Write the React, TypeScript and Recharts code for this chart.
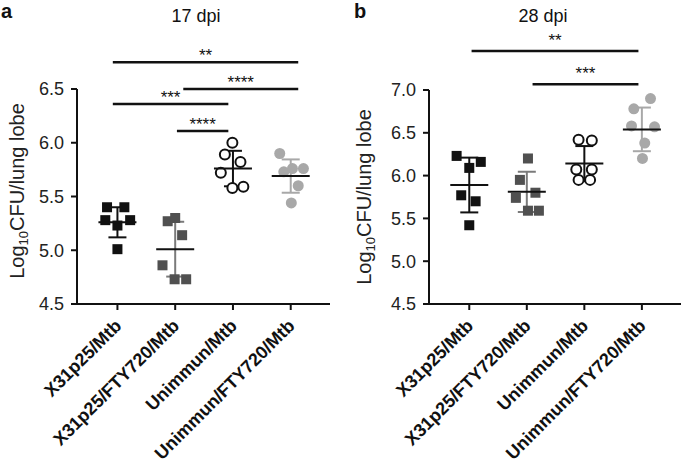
import React from "react";
import {
  ScatterChart,
  Scatter,
  XAxis,
  YAxis,
  ErrorBar,
  ReferenceLine,
} from "recharts";

const FONT = '"Liberation Sans", Arial, sans-serif';

const categories = [
  "X31p25/Mtb",
  "X31p25/FTY720/Mtb",
  "Unimmun/Mtb",
  "Unimmun/FTY720/Mtb",
];

// 17 dpi
const a17X31 = [5.4, 5.4, 5.28, 5.28, 5.23, 5.01];
const a17X31Fty = [5.27, 5.3, 5.14, 4.86, 4.73, 4.73];
const a17Unimm = [6.0, 5.89, 5.82, 5.72, 5.58, 5.59];
const a17UnimmFty = [5.9, 5.73, 5.76, 5.76, 5.6, 5.44];
const a17Mean = [5.26, 5.01, 5.76, 5.69];
const a17Sd = [0.14, 0.255, 0.165, 0.155];
const a17Ticks = [4.5, 5.0, 5.5, 6.0, 6.5];

// 28 dpi
const b28X31 = [6.23, 6.16, 6.09, 5.77, 5.7, 5.42];
const b28X31Fty = [6.2, 5.95, 5.8, 5.74, 5.59, 5.59];
const b28Unimm = [6.42, 6.41, 6.07, 6.07, 5.95, 5.95];
const b28UnimmFty = [6.9, 6.78, 6.58, 6.57, 6.38, 6.2];
const b28Mean = [5.89, 5.81, 6.14, 6.54];
const b28Sd = [0.32, 0.235, 0.205, 0.255];
const b28Ticks = [4.5, 5.0, 5.5, 6.0, 6.5, 7.0];

// horizontal spread of the dots around each category (category units)
const spreadA = [
  [-0.18, 0.12, -0.21, 0.22, 0, 0],
  [-0.13, 0, 0.12, -0.22, -0.01, 0.19],
  [-0.01, -0.14, 0.13, -0.21, -0.01, 0.18],
  [-0.19, -0.12, 0.03, 0.22, 0.13, 0.01],
];
const spreadB = [
  [-0.22, 0.2, 0, -0.14, 0.11, 0],
  [0.02, -0.12, 0.15, -0.19, 0.02, 0.21],
  [-0.1, 0.13, -0.14, 0.13, -0.1, 0.1],
  [0.15, -0.14, -0.18, 0.22, 0.05, 0.01],
];

// significance brackets: from / to category position, height, label
const sigA = [
  { from: 0.92, to: 4.13, y: 6.75, text: "**" },
  { from: 2.14, to: 4.13, y: 6.5, text: "****" },
  { from: 0.92, to: 2.92, y: 6.36, text: "***" },
  { from: 2.03, to: 2.92, y: 6.11, text: "****" },
];
const sigB = [
  { from: 1.04, to: 3.94, y: 7.456, text: "**" },
  { from: 2.1, to: 3.94, y: 7.067, text: "***" },
];

const groupStyle = [
  { shape: "square", fill: "#111", bar: "#111" },
  { shape: "square", fill: "#505050", bar: "#7a7a7a" },
  { shape: "open", fill: "#111", bar: "#111" },
  { shape: "dot", fill: "#a8a8a8", bar: "#a8a8a8" },
];

function makeShape(kind: string, fill: string) {
  return (props: any) => {
    const { cx, cy } = props;
    if (cx == null || cy == null) return <g />;
    if (kind === "square")
      return <rect x={cx - 5} y={cy - 5} width={10} height={10} fill={fill} />;
    if (kind === "open")
      return (
        <circle cx={cx} cy={cy} r={5} fill="#fff" stroke={fill} strokeWidth={2} />
      );
    return <circle cx={cx} cy={cy} r={5.5} fill={fill} />;
  };
}

function meanShape(props: any) {
  const { cx, cy } = props;
  if (cx == null || cy == null) return <g />;
  return (
    <line x1={cx - 19} x2={cx + 19} y1={cy} y2={cy} stroke="#111" strokeWidth={2} />
  );
}

function CatTick(props: any) {
  const { x, y, payload } = props;
  const tx = x + 5;
  const ty = y + 15;
  return (
    <text
      x={tx}
      y={ty}
      transform={`rotate(-45, ${tx}, ${ty})`}
      textAnchor="end"
      fontFamily={FONT}
      fontWeight="bold"
      fontSize={18}
      fill="#111"
    >
      {categories[payload.value - 1]}
    </text>
  );
}

function sigLabel(text: string, gap: number) {
  return (props: any) => {
    const vb = props.viewBox || {};
    return (
      <text
        x={vb.x + vb.width / 2}
        y={vb.y - gap}
        textAnchor="middle"
        fontFamily={FONT}
        fontSize={17}
        fill="#111"
      >
        {text}
      </text>
    );
  };
}

type PanelProps = {
  groups: number[][];
  spread: number[][];
  means: number[];
  sds: number[];
  ticks: number[];
  sig: { from: number; to: number; y: number; text: string }[];
  sigGap: number;
  width: number;
  yWidth: number;
  top: number;
  right: number;
};

function Panel(p: PanelProps) {
  const lo = p.ticks[0];
  const hi = p.ticks[p.ticks.length - 1];
  return (
    <ScatterChart
      width={p.width}
      height={466}
      margin={{ top: p.top, right: p.right, bottom: 0, left: 0 }}
    >
      <XAxis
        type="number"
        dataKey="x"
        domain={[0.3, 4.68]}
        ticks={[1, 2, 3, 4]}
        allowDataOverflow
        height={162}
        stroke="#111"
        strokeWidth={2}
        tickSize={6}
        tickMargin={2}
        tick={<CatTick />}
        interval={0}
      />
      <YAxis
        type="number"
        dataKey="y"
        domain={[lo, hi]}
        ticks={p.ticks}
        allowDataOverflow
        width={p.yWidth}
        stroke="#111"
        strokeWidth={2}
        tickSize={6}
        tickMargin={7}
        tickFormatter={(v: number) => v.toFixed(1)}
        tick={{ fill: "#222", fontSize: 18, fontFamily: FONT }}
      />
      {p.groups.map((vals, g) => (
        <Scatter
          key={"pts" + g}
          data={vals.map((v, i) => ({ x: g + 1 + p.spread[g][i], y: v }))}
          shape={makeShape(groupStyle[g].shape, groupStyle[g].fill)}
          isAnimationActive={false}
        />
      ))}
      {p.means.map((m, g) => (
        <Scatter
          key={"mean" + g}
          data={[{ x: g + 1, y: m, sd: p.sds[g] }]}
          shape={meanShape}
          isAnimationActive={false}
        >
          <ErrorBar
            dataKey="sd"
            direction="y"
            width={9}
            stroke={groupStyle[g].bar}
            strokeWidth={2}
            isAnimationActive={false}
          />
        </Scatter>
      ))}
      {p.sig.map((s, i) => (
        <ReferenceLine
          key={"sig" + i}
          segment={[
            { x: s.from, y: s.y },
            { x: s.to, y: s.y },
          ]}
          ifOverflow="visible"
          stroke="#111"
          strokeWidth={2.5}
          label={sigLabel(s.text, p.sigGap)}
        />
      ))}
    </ScatterChart>
  );
}

function YTitle({ cx, cy }: { cx: number; cy: number }) {
  return (
    <div
      style={{
        position: "absolute",
        left: cx - 120,
        top: cy - 12,
        width: 240,
        height: 24,
        lineHeight: "24px",
        textAlign: "center",
        transform: "rotate(-90deg)",
        fontFamily: FONT,
        fontSize: 20,
        color: "#222",
        whiteSpace: "nowrap",
      }}
    >
      Log<sub style={{ fontSize: 13, verticalAlign: "-4px" }}>10</sub>CFU/lung lobe
    </div>
  );
}

function Text({
  x,
  y,
  size,
  bold,
  children,
  center,
}: {
  x: number;
  y: number;
  size: number;
  bold?: boolean;
  center?: boolean;
  children: React.ReactNode;
}) {
  return (
    <div
      style={{
        position: "absolute",
        left: center ? x - 60 : x,
        top: y,
        width: center ? 120 : undefined,
        textAlign: center ? "center" : "left",
        fontFamily: FONT,
        fontSize: size,
        lineHeight: 1.15,
        fontWeight: bold ? "bold" : "normal",
        color: "#111",
        whiteSpace: "nowrap",
      }}
    >
      {children}
    </div>
  );
}

export default function App() {
  return (
    <div
      style={{
        position: "absolute",
        left: 0,
        top: 0,
        width: 685,
        height: 466,
        background: "#fff",
        overflow: "hidden",
      }}
    >
      <div style={{ position: "absolute", left: 0, top: 0 }}>
        <Panel
          groups={[a17X31, a17X31Fty, a17Unimm, a17UnimmFty]}
          spread={spreadA}
          means={a17Mean}
          sds={a17Sd}
          ticks={a17Ticks}
          sig={sigA}
          sigGap={1}
          width={340}
          yWidth={77}
          top={89}
          right={10}
        />
      </div>
      <div style={{ position: "absolute", left: 340, top: 0 }}>
        <Panel
          groups={[b28X31, b28X31Fty, b28Unimm, b28UnimmFty]}
          spread={spreadB}
          means={b28Mean}
          sds={b28Sd}
          ticks={b28Ticks}
          sig={sigB}
          sigGap={5}
          width={345}
          yWidth={89}
          top={90}
          right={4}
        />
      </div>
      <Text x={1} y={0} size={20} bold>
        a
      </Text>
      <Text x={196} y={6} size={18} center>
        17 dpi
      </Text>
      <Text x={354} y={0} size={20} bold>
        b
      </Text>
      <Text x={543} y={6} size={18} center>
        28 dpi
      </Text>
      <YTitle cx={17} cy={191} />
      <YTitle cx={364} cy={197} />
    </div>
  );
}
